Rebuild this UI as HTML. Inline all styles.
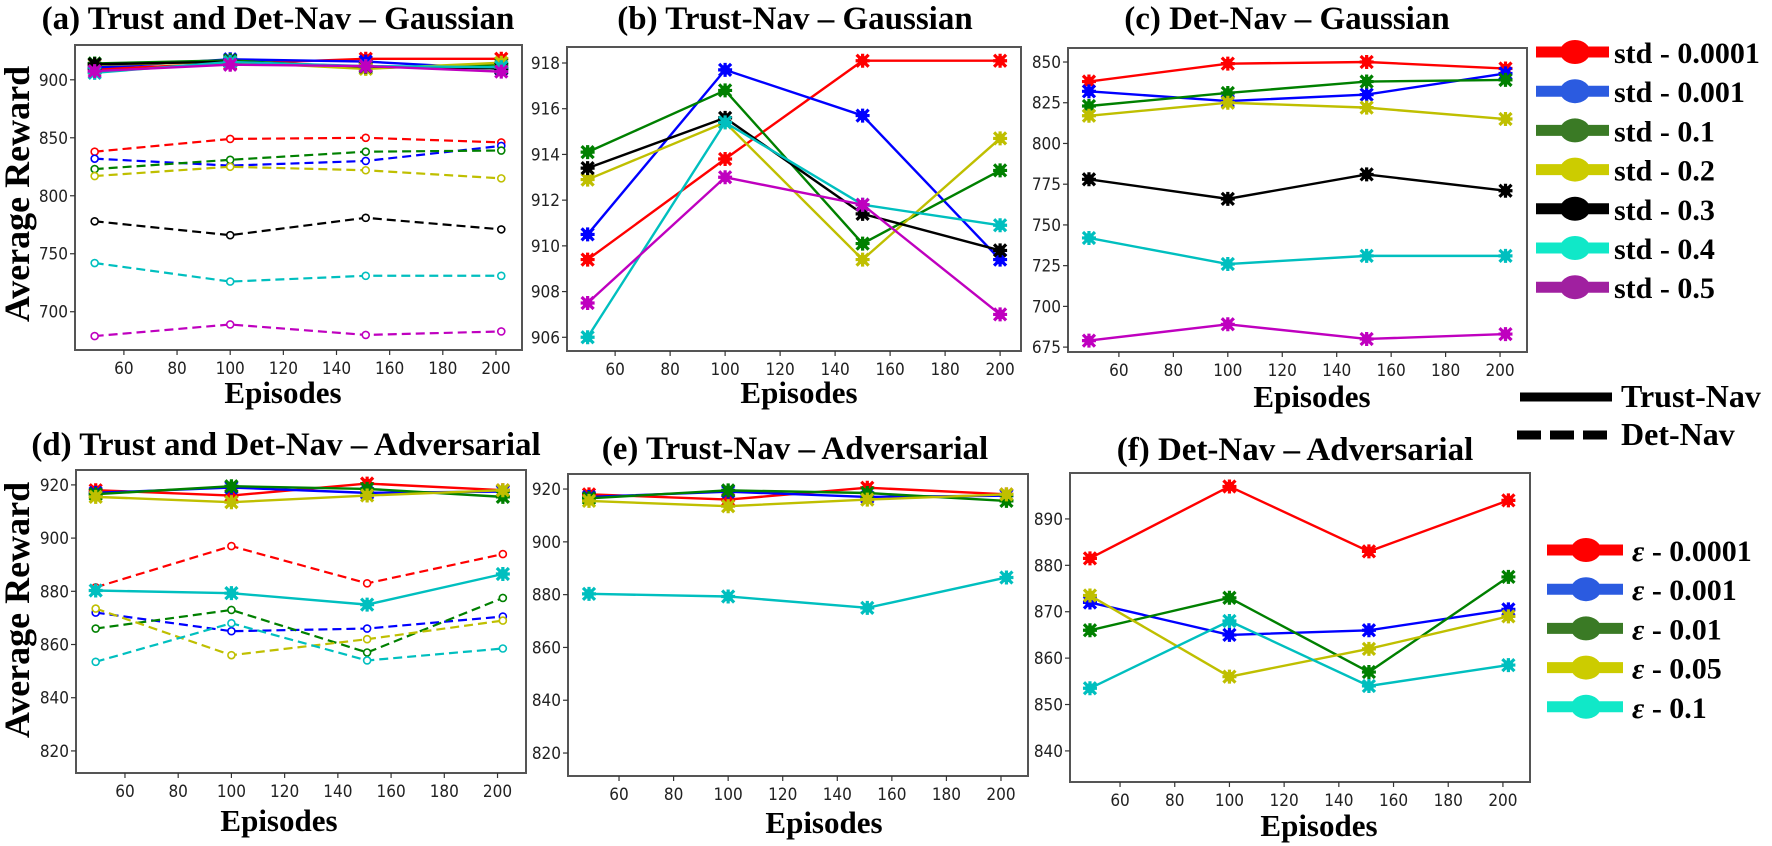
<!DOCTYPE html>
<html><head><meta charset="utf-8"><style>
html,body{margin:0;padding:0;background:#fff;}
svg{display:block;}
.tt{font-family:"Liberation Serif",serif;font-weight:bold;fill:#000;}
.tk{font-family:"DejaVu Sans Condensed","DejaVu Sans",sans-serif;font-size:17px;fill:#222;}
</style></head><body>
<svg id="fig" width="1772" height="846" xmlns="http://www.w3.org/2000/svg">
<text class="tt" x="278" y="29" font-size="33" text-anchor="middle">(a) Trust and Det-Nav – Gaussian</text>
<text class="tt" x="795" y="29" font-size="33" text-anchor="middle">(b) Trust-Nav – Gaussian</text>
<text class="tt" x="1287" y="29" font-size="33" text-anchor="middle">(c) Det-Nav – Gaussian</text>
<text class="tt" x="286" y="455" font-size="33" text-anchor="middle">(d) Trust and Det-Nav – Adversarial</text>
<text class="tt" x="795" y="459" font-size="33" text-anchor="middle">(e) Trust-Nav – Adversarial</text>
<text class="tt" x="1295" y="460" font-size="33" text-anchor="middle">(f) Det-Nav – Adversarial</text>
<text class="tt" font-size="36" text-anchor="middle" transform="translate(29,194) rotate(-90)">Average Reward</text>
<text class="tt" font-size="36" text-anchor="middle" transform="translate(29,610) rotate(-90)">Average Reward</text>
<text class="tt" x="283" y="403" font-size="31" text-anchor="middle">Episodes</text>
<text class="tt" x="799" y="403" font-size="31" text-anchor="middle">Episodes</text>
<text class="tt" x="1312" y="407" font-size="31" text-anchor="middle">Episodes</text>
<text class="tt" x="279" y="831" font-size="31" text-anchor="middle">Episodes</text>
<text class="tt" x="824" y="833" font-size="31" text-anchor="middle">Episodes</text>
<text class="tt" x="1319" y="836" font-size="31" text-anchor="middle">Episodes</text>
<g id="legendTop"></g>
<g id="legendBot"></g>
<g>
<line x1="1520" y1="397" x2="1612" y2="397" stroke="#000" stroke-width="9"/>
<text class="tt" x="1621" y="407" font-size="32">Trust-Nav</text>
<line x1="1517" y1="435" x2="1612" y2="435" stroke="#000" stroke-width="9" stroke-dasharray="24,9"/>
<text class="tt" x="1621" y="445" font-size="32">Det-Nav</text>
</g>
</svg>
<script>
// ---- data ----
const episodesA = [49, 100, 151, 202];
const episodesB = [50, 100, 150, 200];
const xTicks = [60, 80, 100, 120, 140, 160, 180, 200];
const stdLabels = ["std - 0.0001","std - 0.001","std - 0.1","std - 0.2","std - 0.3","std - 0.4","std - 0.5"];
const epsValues = ["0.0001","0.001","0.01","0.05","0.1"];
// Trust-Nav Gaussian
const tgRed = [909.4, 913.8, 918.1, 918.1];
const tgBlue = [910.5, 917.7, 915.7, 909.4];
const tgGreen = [914.1, 916.8, 910.1, 913.3];
const tgYellow = [912.9, 915.4, 909.4, 914.7];
const tgBlack = [913.4, 915.6, 911.4, 909.8];
const tgCyan = [906.0, 915.4, 911.8, 910.9];
const tgMagenta = [907.5, 913.0, 911.8, 907.0];
// Det-Nav Gaussian
const dgRed = [838, 849, 850, 846];
const dgBlue = [832, 826, 830, 843];
const dgGreen = [823, 831, 838, 839];
const dgYellow = [817, 825, 822, 815];
const dgBlack = [778, 766, 781, 771];
const dgCyan = [742, 726, 731, 731];
const dgMagenta = [679, 689, 680, 683];
// Trust-Nav Adversarial
const taRed = [918, 916, 920.5, 918];
const taBlue = [917, 919, 917, 917.5];
const taGreen = [916.5, 919.5, 918.5, 915.5];
const taYellow = [915.5, 913.5, 916, 918];
const taCyan = [880.3, 879.3, 875, 886.5];
// Det-Nav Adversarial
const daRed = [881.5, 897, 883, 894];
const daBlue = [872, 865, 866, 870.5];
const daGreen = [866, 873, 857, 877.5];
const daYellow = [873.5, 856, 862, 869];
const daCyan = [853.5, 868, 854, 858.5];
const yTicksA = [700, 750, 800, 850, 900];
const yTicksB = [906, 908, 910, 912, 914, 916, 918];
const yTicksC = [675, 700, 725, 750, 775, 800, 825, 850];
const yTicksD = [820, 840, 860, 880, 900, 920];
const yTicksF = [840, 850, 860, 870, 880, 890];

const C = {r:"#ff0000",b:"#0000ff",g:"#008000",y:"#bfbf00",k:"#000000",c:"#00bfbf",m:"#bf00bf"};
const NS = "http://www.w3.org/2000/svg";
const fig = document.getElementById("fig");
function mk(tag, attrs, parent){const e=document.createElementNS(NS,tag);for(const k in attrs)e.setAttribute(k,attrs[k]);(parent||fig).appendChild(e);return e;}

function panel(id, box, xd, yd, yTicks, series){
  const g = mk("g",{});
  
  
  const sx = v => box[0] + (v - xd[0]) / (xd[1] - xd[0]) * (box[2] - box[0]);
  const sy = v => box[3] - (v - yd[0]) / (yd[1] - yd[0]) * (box[3] - box[1]);
  series.forEach(s => {
    const pts = s.x.map((xv,i)=>sx(xv)+","+sy(s.y[i])).join(" ");
    const pl = mk("polyline",{points:pts,fill:"none",stroke:s.c,"stroke-width":s.dash?2.2:2.4},g);
    if(s.dash) pl.setAttribute("stroke-dasharray","9,5");
    
    
    s.x.forEach((xv,i)=>{
      const cx=sx(xv), cy=sy(s.y[i]);
      let m;
      if(s.dash){
        m = mk("circle",{cx:cx,cy:cy,r:3.5,fill:"#fff",stroke:s.c,"stroke-width":1.6},g);
      } else {
        m = mk("path",{d:`M${cx-6},${cy-6}L${cx+6},${cy+6}M${cx+6},${cy-6}L${cx-6},${cy+6}M${cx},${cy-7}V${cy+7}M${cx-7},${cy}H${cx+7}`,stroke:s.c,"stroke-width":3.2},g);
        mk("circle",{cx:cx,cy:cy,r:5,fill:s.c},g);
      }
      
      
    });
  });
  const fr = mk("rect",{x:box[0],y:box[1],width:box[2]-box[0],height:box[3]-box[1],fill:"none",stroke:"#555","stroke-width":2},g);
  
  
  xTicks.forEach(t=>{
    const x=sx(t);
    mk("line",{x1:x,y1:box[3],x2:x,y2:box[3]+5,stroke:"#333","stroke-width":1.2},g);
    const tx=mk("text",{x:x,y:box[3]+24,"text-anchor":"middle",class:"tk"},g);
    tx.textContent=t;
    
    
  });
  yTicks.forEach(t=>{
    const y=sy(t);
    mk("line",{x1:box[0]-5,y1:y,x2:box[0],y2:y,stroke:"#333","stroke-width":1.2},g);
    const tx=mk("text",{x:box[0]-7,y:y+6,"text-anchor":"end",class:"tk"},g);
    tx.textContent=t;
    
    
  });
}
const S=(x,y,c,dash)=>({x:x,y:y,c:c,dash:!!dash});
const tgAll=[S(episodesA,tgRed,C.r),S(episodesA,tgBlue,C.b),S(episodesA,tgGreen,C.g),S(episodesA,tgYellow,C.y),S(episodesA,tgBlack,C.k),S(episodesA,tgCyan,C.c),S(episodesA,tgMagenta,C.m)];
const dgAll=[S(episodesA,dgRed,C.r,1),S(episodesA,dgBlue,C.b,1),S(episodesA,dgGreen,C.g,1),S(episodesA,dgYellow,C.y,1),S(episodesA,dgBlack,C.k,1),S(episodesA,dgCyan,C.c,1),S(episodesA,dgMagenta,C.m,1)];
panel("a",[75,45,522,350],[41.6,209.8],[667,930],yTicksA,dgAll.concat(tgAll));
panel("b",[567,47,1021,351],[42.5,207.6],[905.4,918.7],yTicksB,
  [S(episodesB,tgRed,C.r),S(episodesB,tgBlue,C.b),S(episodesB,tgGreen,C.g),S(episodesB,tgYellow,C.y),S(episodesB,tgBlack,C.k),S(episodesB,tgCyan,C.c),S(episodesB,tgMagenta,C.m)]);
panel("c",[1068,48,1527,352],[41.3,209.9],[672,858.6],yTicksC,
  dgAll.map(s=>S(s.x,s.y,s.c)));
const taAll=[S(episodesA,taRed,C.r),S(episodesA,taBlue,C.b),S(episodesA,taGreen,C.g),S(episodesA,taYellow,C.y),S(episodesA,taCyan,C.c)];
const daAll=[S(episodesA,daRed,C.r,1),S(episodesA,daBlue,C.b,1),S(episodesA,daGreen,C.g,1),S(episodesA,daYellow,C.y,1),S(episodesA,daCyan,C.c,1)];
panel("d",[76,470,526,773],[41.6,210.7],[811.7,925.6],yTicksD,daAll.concat(taAll));
panel("e",[568,474,1028,776],[41.3,209.9],[811.3,925.7],yTicksD,taAll);
panel("f",[1070,473,1530,782],[41.7,209.9],[833.3,899.9],yTicksF,daAll.map(s=>S(s.x,s.y,s.c)));

const legCols=["#ff0000","#2b5be0","#3a7a25","#cccc00","#000000","#10e8c8","#a020a0"];
const lt=document.getElementById("legendTop");
stdLabels.forEach((lab,i)=>{
  const y=52+i*39.2;
  const l=mk("line",{x1:1536,y1:y,x2:1609,y2:y,stroke:legCols[i],"stroke-width":11},lt);
  
  
  mk("ellipse",{cx:1575,cy:y,rx:15,ry:12,fill:legCols[i]},lt);
  const t=mk("text",{x:1614,y:y+11,class:"tt","font-size":30},lt);
  t.textContent=lab;
  
  
});
const epsCols=["#ff0000","#2b5be0","#3a7a25","#cccc00","#10e8c8"];
const lb=document.getElementById("legendBot");
epsValues.forEach((v,i)=>{
  const y=550+i*39.2;
  const l=mk("line",{x1:1547,y1:y,x2:1623,y2:y,stroke:epsCols[i],"stroke-width":11},lb);
  
  
  mk("ellipse",{cx:1586,cy:y,rx:15,ry:12,fill:epsCols[i]},lb);
  const t=mk("text",{x:1632,y:y+11,class:"tt","font-size":30},lb);
  const e=mk("tspan",{"font-style":"italic"},t);
  e.textContent="ε";
  const r=mk("tspan",{},t);
  r.textContent=" - "+v;
  
  
});
</script>
</body></html>
